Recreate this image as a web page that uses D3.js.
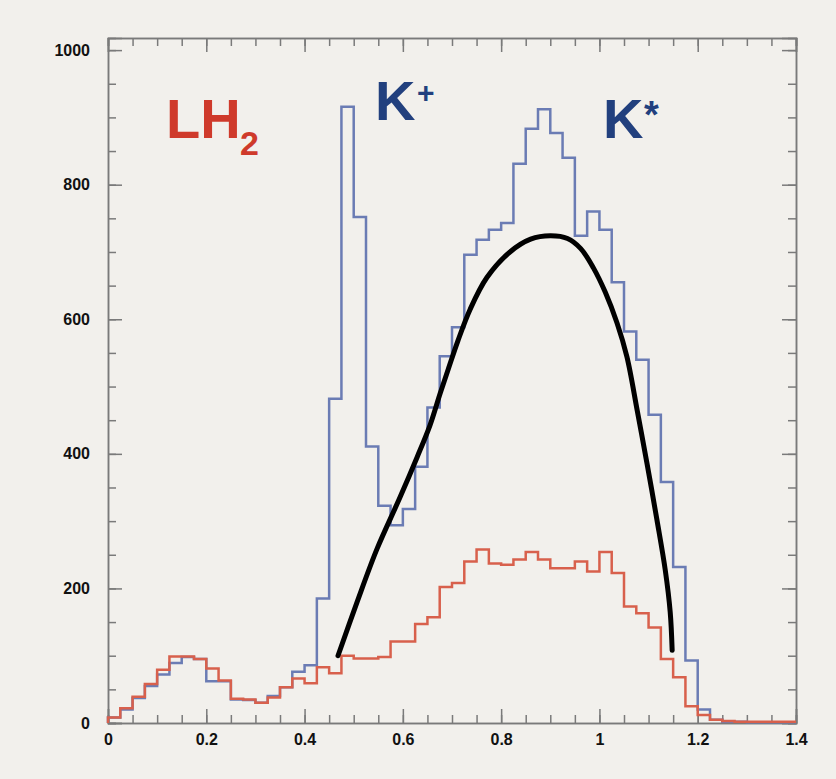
<!DOCTYPE html>
<html>
<head>
<meta charset="utf-8">
<script src="https://cdn.jsdelivr.net/npm/d3@7"></script>
<style>
  body { margin: 0; background: #f2f0ec; }
  .tick text { font-family: "Liberation Sans", Arial, sans-serif; font-weight: bold; font-size: 16px; fill: #111; }
  .axis path, .axis line { stroke: #7a7a7a; stroke-width: 1.5; }
</style>
</head>
<body>
<svg id="chart"></svg>
<script>
// bin width 0.025, 56 bins from 0 to 1.4
const binWidth = 0.025;

// K+ counts per bin (blue)
const kPlusCounts = [
  8, 20, 37, 55, 72, 89, 98, 95, 62, 62,
  35, 34, 30, 40, 53, 76, 86, 185, 482, 916,
  752, 411, 323, 294, 318, 381, 469, 545, 588, 696,
  718, 733, 743, 831, 883, 912, 877, 840, 724, 760,
  733, 655, 582, 540, 458, 358, 232, 93, 20, 5,
  2, 2, 1, 1, 1, 1
];

// LH2 counts per bin (red)
const lh2Counts = [
  8, 22, 39, 58, 79, 99, 99, 95, 81, 63,
  36, 35, 30, 38, 53, 66, 59, 83, 74, 100,
  96, 96, 98, 121, 121, 147, 157, 202, 208, 240,
  258, 237, 235, 243, 254, 243, 230, 230, 240, 225,
  254, 223, 173, 163, 142, 95, 68, 25, 12, 5,
  3, 2, 2, 2, 2, 2
];

// hand drawn K* curve
const curveX = [0.468, 0.507, 0.547, 0.594, 0.629, 0.655, 0.676, 0.692, 0.712, 0.737,
                0.771, 0.818, 0.860, 0.900, 0.935, 0.962, 0.988, 1.012, 1.036, 1.056,
                1.077, 1.097, 1.117, 1.134, 1.144, 1.148];
const curveY = [100, 180, 258, 335, 395, 442, 490, 525, 568, 615,
                662, 700, 719, 724, 720, 705, 676, 640, 594, 544,
                464, 385, 302, 227, 165, 108];

const xMajor = [0, 0.2, 0.4, 0.6, 0.8, 1, 1.2, 1.4];
const yMajor = [0, 200, 400, 600, 800, 1000];

class HistChart {
    constructor(_config) {
        this.config = {
            parentElement: _config.parentElement,
            containerWidth: 836,
            containerHeight: 779,
            margin: { top: 38, bottom: 56, right: 40, left: 108 }
        };
        this.initVis();
    }

    initVis() {
        let vis = this;

        vis.width = vis.config.containerWidth - vis.config.margin.left - vis.config.margin.right;
        vis.height = vis.config.containerHeight - vis.config.margin.top - vis.config.margin.bottom;

        vis.xScale = d3.scaleLinear().domain([0, 1.4]).range([0, vis.width]);
        vis.yScale = d3.scaleLinear().domain([0, 1018]).range([vis.height, 0]);

        vis.svg = d3.select(vis.config.parentElement)
            .attr("width", vis.config.containerWidth)
            .attr("height", vis.config.containerHeight);

        vis.svg.append("rect")
            .attr("width", vis.config.containerWidth)
            .attr("height", vis.config.containerHeight)
            .attr("fill", "#f2f0ec");

        vis.chart = vis.svg.append("g")
            .attr("transform", `translate(${vis.config.margin.left},${vis.config.margin.top})`);

        vis.renderVis();
    }

    renderVis() {
        let vis = this;
        const xMinor = d3.range(0, 57, 2).map(i => i * binWidth);
        const yMinor = d3.range(0, 1001, 50);
        const fmt = d => String(d);

        // frame with inside ticks on all four sides
        vis.chart.append("g").attr("class", "axis")
            .attr("transform", `translate(0,${vis.height})`)
            .call(d3.axisBottom(vis.xScale).tickValues(xMinor).tickSize(-8).tickFormat(""));
        vis.chart.append("g").attr("class", "axis")
            .attr("transform", `translate(0,${vis.height})`)
            .call(d3.axisBottom(vis.xScale).tickValues(xMajor).tickSize(-14).tickPadding(11).tickFormat(fmt));
        vis.chart.append("g").attr("class", "axis")
            .call(d3.axisTop(vis.xScale).tickValues(xMinor).tickSize(-8).tickFormat(""));
        vis.chart.append("g").attr("class", "axis")
            .call(d3.axisTop(vis.xScale).tickValues(xMajor).tickSize(-14).tickFormat(""));

        vis.chart.append("g").attr("class", "axis")
            .call(d3.axisLeft(vis.yScale).tickValues(yMinor).tickSize(-8).tickFormat(""));
        vis.chart.append("g").attr("class", "axis")
            .call(d3.axisLeft(vis.yScale).tickValues(yMajor).tickSize(-14).tickPadding(18).tickFormat(fmt));
        vis.chart.append("g").attr("class", "axis")
            .attr("transform", `translate(${vis.width},0)`)
            .call(d3.axisRight(vis.yScale).tickValues(yMinor).tickSize(-8).tickFormat(""));
        vis.chart.append("g").attr("class", "axis")
            .attr("transform", `translate(${vis.width},0)`)
            .call(d3.axisRight(vis.yScale).tickValues(yMajor).tickSize(-14).tickFormat(""));

        vis.chart.selectAll(".axis .domain").attr("stroke", "#7a7a7a");

        // step outlines
        const stepLine = d3.line()
            .x(d => vis.xScale(d[0]))
            .y(d => vis.yScale(d[1]))
            .curve(d3.curveStepAfter);

        const toSteps = counts => {
            const pts = [[0, 0]];
            counts.forEach((c, i) => pts.push([i * binWidth, c]));
            pts.push([counts.length * binWidth, counts[counts.length - 1]]);
            return pts;
        };

        vis.chart.append("path")
            .attr("d", stepLine(toSteps(kPlusCounts)))
            .attr("fill", "none")
            .attr("stroke", "#6b7cb4")
            .attr("stroke-width", 2.5);

        vis.chart.append("path")
            .attr("d", stepLine(toSteps(lh2Counts)))
            .attr("fill", "none")
            .attr("stroke", "#d8604c")
            .attr("stroke-width", 2.5);

        // black curve
        const smooth = d3.line()
            .x(d => vis.xScale(d[0]))
            .y(d => vis.yScale(d[1]))
            .curve(d3.curveCatmullRom.alpha(0.5));

        vis.chart.append("path")
            .attr("d", smooth(curveX.map((x, i) => [x, curveY[i]])))
            .attr("fill", "none")
            .attr("stroke", "#000")
            .attr("stroke-width", 5)
            .attr("stroke-linecap", "round")
            .attr("stroke-linejoin", "round");

        // labels
        const label = (txt, x, y, size, color) => vis.svg.append("text")
            .attr("x", x).attr("y", y)
            .attr("font-family", "'Liberation Sans', Arial, sans-serif")
            .attr("font-weight", "bold")
            .attr("font-size", size)
            .attr("fill", color)
            .text(txt);

        label("LH", 166, 138, 56, "#cf3a2b");
        label("2", 240, 155, 34, "#cf3a2b");
        label("K", 375, 120, 56, "#22407e");
        label("+", 417, 103, 30, "#22407e");
        label("K", 603, 138, 56, "#22407e");
        label("*", 644, 128, 38, "#22407e");
    }
}

new HistChart({ parentElement: "#chart" });
</script>
</body>
</html>
